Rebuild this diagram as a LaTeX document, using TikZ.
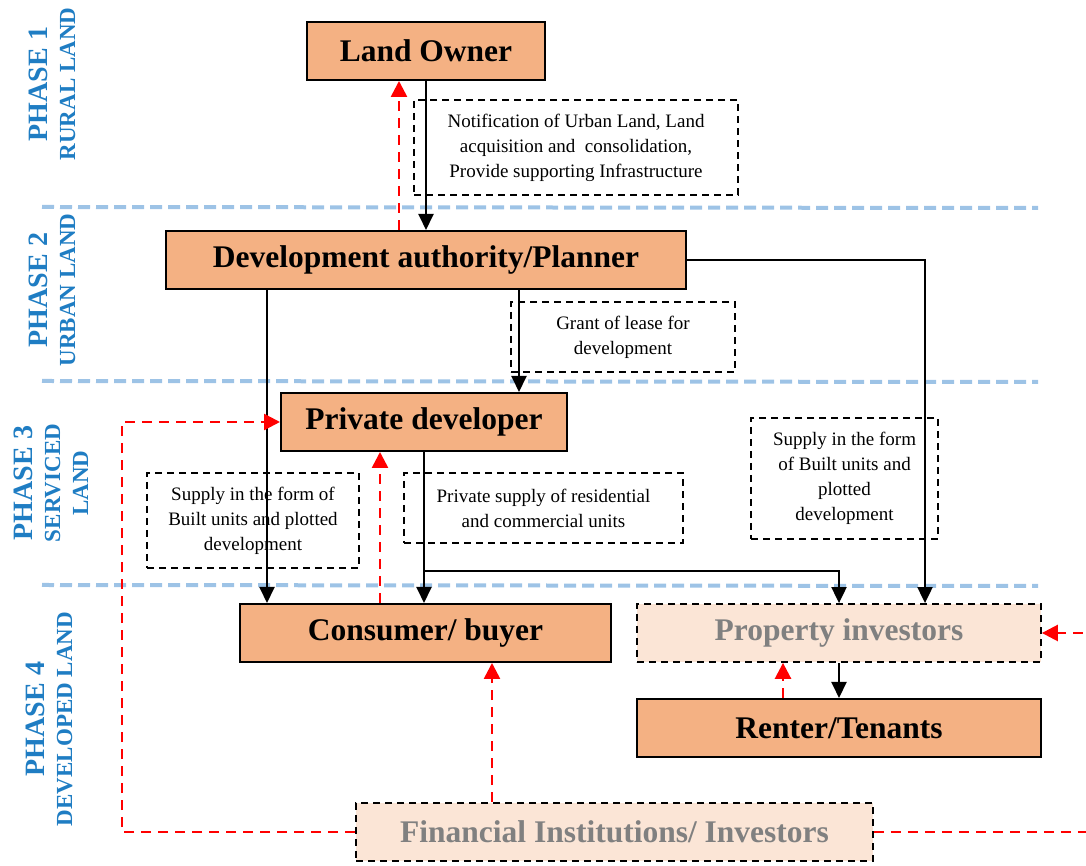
\documentclass[tikz,border=0pt]{standalone}
\usepackage{fontspec}
\setmainfont{Liberation Serif}
\usetikzlibrary{arrows.meta}
\definecolor{boxfill}{RGB}{244,177,131}
\definecolor{ghostfill}{RGB}{251,229,214}
\definecolor{ghosttext}{RGB}{128,128,128}
\definecolor{phaseblue}{RGB}{31,125,195}
\definecolor{phaseline}{RGB}{157,195,230}
\begin{document}
\begin{tikzpicture}[x=1pt,y=1pt,
  mainbox/.style={draw,rectangle,line width=2pt,fill=boxfill,inner sep=0pt,
    font=\fontsize{31.5}{34}\selectfont\bfseries},
  ghostbox/.style={draw,rectangle,line width=1.8pt,dash pattern=on 7pt off 5pt,
    fill=ghostfill,inner sep=0pt,text=ghosttext,font=\fontsize{31.5}{34}\selectfont\bfseries},
  notebox/.style={draw,rectangle,line width=1.6pt,dash pattern=on 7pt off 5pt,
    inner sep=0pt,align=center,font=\fontsize{19}{25}\selectfont},
  flow/.style={line width=2pt,-{Triangle[length=16pt,width=15pt]}},
  money/.style={red,line width=2.6pt,dash pattern=on 10pt off 7pt,-{Triangle[length=16pt,width=16pt]}},
  phasesep/.style={phaseline,line width=4pt,dash pattern=on 12pt off 6pt},
  phaselabel/.style={rotate=90,text=phaseblue,align=center,font=\bfseries\fontsize{23}{28}\selectfont}]
\useasboundingbox (0,0) rectangle (1086,866);
% phases
\draw[phasesep] (42,659) -- (1038,658);
\draw[phasesep] (42,485) -- (1038,484);
\draw[phasesep] (42,281) -- (1038,280);
\node (Phase1) at (52,782) [phaselabel] {{\fontsize{28}{28}\selectfont PHASE 1}\\RURAL LAND};
\node (Phase2) at (52,576) [phaselabel] {{\fontsize{28}{28}\selectfont PHASE 2}\\URBAN LAND};
\node (Phase3) at (51,383) [phaselabel] {{\fontsize{28}{28}\selectfont PHASE 3}\\SERVICED\\LAND};
\node (Phase4) at (49,147) [phaselabel] {{\fontsize{28}{28}\selectfont PHASE 4}\\DEVELOPED LAND};
% actors
\node (LandOwner) at (426,815) [mainbox,minimum width=238,minimum height=58] {Land Owner};
\node (DevAuthority) at (426,606) [mainbox,minimum width=520,minimum height=58] {Development authority/Planner};
\node (PrivDeveloper) at (424,444) [mainbox,minimum width=286,minimum height=58] {Private developer};
\node (Consumer) at (425.5,233) [mainbox,minimum width=371,minimum height=58] {Consumer/ buyer};
\node (PropInvestors) at (839,233) [ghostbox,minimum width=404,minimum height=58] {Property investors};
\node (Renter) at (839,138) [mainbox,minimum width=404,minimum height=58] {Renter/Tenants};
\node (FinInstitutions) at (614.5,34) [ghostbox,minimum width=517,minimum height=58] {Financial Institutions/ Investors};
% notes
\node (NoteUrban) at (576,718.5) [notebox,minimum width=324,minimum height=95] {Notification of Urban Land, Land\\acquisition and\ \ consolidation,\\Provide supporting Infrastructure};
\node (NoteLease) at (623,529) [notebox,minimum width=224,minimum height=70] {Grant of lease for\\development};
\node (NoteSupplyL) at (253,345.5) [notebox,minimum width=212,minimum height=95] {Supply in the form of\\Built units and plotted\\development};
\node (NotePrivate) at (543.5,358) [notebox,minimum width=279,minimum height=70] {Private supply of residential\\and commercial units};
\node (NoteSupplyR) at (844.5,387.5) [notebox,minimum width=187,minimum height=121] {Supply in the form\\of Built units and\\plotted\\development};
% helper coordinates
\coordinate (xFeedA) at (399,0);
\coordinate (xSupplyL) at (267,0);
\coordinate (xLease) at (519,0);
\coordinate (xSupplyR) at (925,0);
\coordinate (xFeedB) at (380,0);
\coordinate (xFeedC) at (492,0);
\coordinate (xFeedD) at (783,0);
\coordinate (xLoop) at (122,0);
\coordinate (xOut) at (1100,0);
\coordinate (yBranch) at (0,295);
% flows
\draw[flow] (LandOwner) -- (DevAuthority);
\draw[flow] (DevAuthority.south -| xSupplyL) -- (Consumer.north -| xSupplyL);
\draw[flow] (DevAuthority.south -| xLease) -- (PrivDeveloper.north -| xLease);
\draw[flow] (DevAuthority.east) -| (PropInvestors.north -| xSupplyR);
\draw[flow] (PrivDeveloper.south) -- (Consumer.north -| PrivDeveloper.south);
\draw[flow] (PrivDeveloper.south |- yBranch) -| (PropInvestors.north);
\draw[flow] (PropInvestors) -- (Renter);
% money
\draw[money] (DevAuthority.north -| xFeedA) -- (LandOwner.south -| xFeedA);
\draw[money] (Consumer.north -| xFeedB) -- (PrivDeveloper.south -| xFeedB);
\draw[money] (FinInstitutions.north -| xFeedC) -- (Consumer.south -| xFeedC);
\draw[money] (Renter.north -| xFeedD) -- (PropInvestors.south -| xFeedD);
\draw[money] (FinInstitutions.west) -| (PrivDeveloper.west -| xLoop) -- (PrivDeveloper.west);
\draw[money] (FinInstitutions.east) -| (PropInvestors.east -| xOut) -- (PropInvestors.east);
\end{tikzpicture}
\end{document}
